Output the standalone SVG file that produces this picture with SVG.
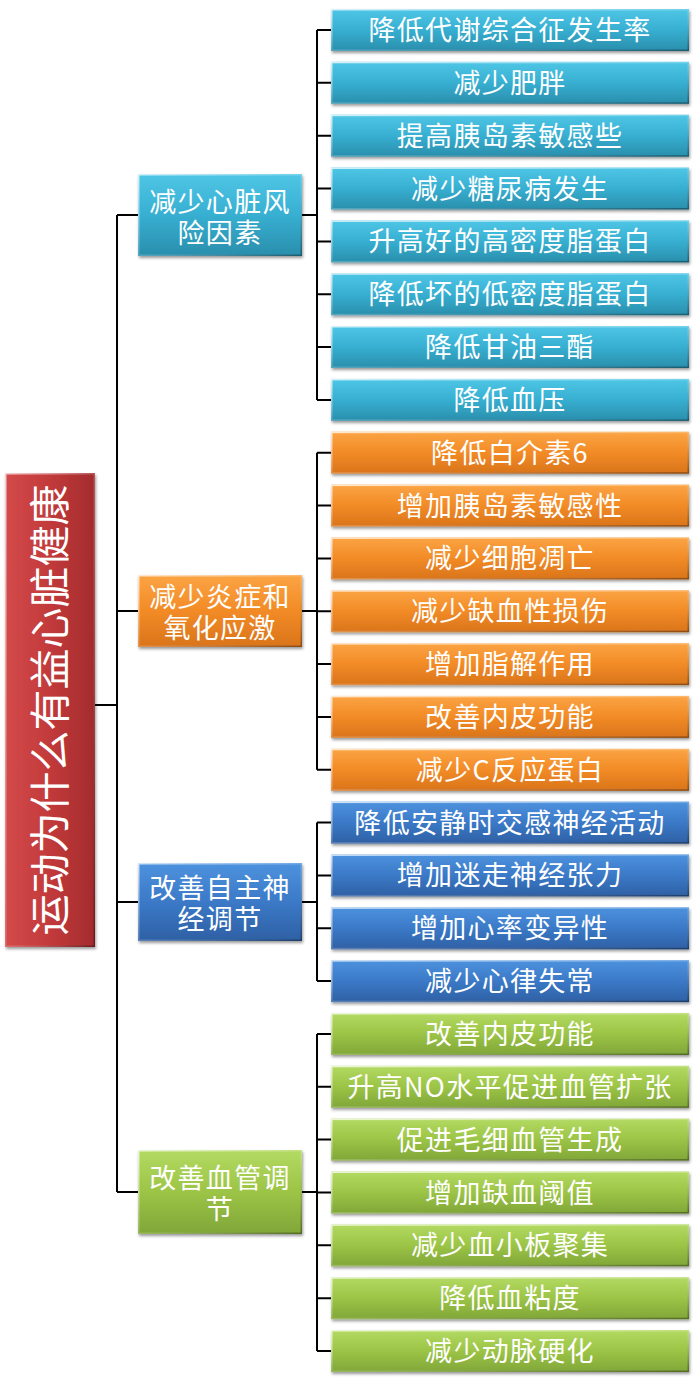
<svg xmlns="http://www.w3.org/2000/svg" width="700" height="1392" viewBox="0 0 700 1392">
<defs>
<linearGradient id="gBlue" x1="0" y1="0" x2="0" y2="1"><stop offset="0" stop-color="#4fc6e6"/><stop offset="0.5" stop-color="#37afd1"/><stop offset="1" stop-color="#2a8eac"/></linearGradient>
<linearGradient id="gOrange" x1="0" y1="0" x2="0" y2="1"><stop offset="0" stop-color="#fba444"/><stop offset="0.5" stop-color="#f28b26"/><stop offset="1" stop-color="#d9741b"/></linearGradient>
<linearGradient id="gBlue2" x1="0" y1="0" x2="0" y2="1"><stop offset="0" stop-color="#4d92de"/><stop offset="0.5" stop-color="#3b79c7"/><stop offset="1" stop-color="#2e60a4"/></linearGradient>
<linearGradient id="gGreen" x1="0" y1="0" x2="0" y2="1"><stop offset="0" stop-color="#b3da62"/><stop offset="0.5" stop-color="#9cc446"/><stop offset="1" stop-color="#80a638"/></linearGradient>
<linearGradient id="gRed" x1="0" y1="0" x2="1" y2="0"><stop offset="0" stop-color="#d44a4a"/><stop offset="0.5" stop-color="#c23a3b"/><stop offset="1" stop-color="#a32b2d"/></linearGradient>
<linearGradient id="gBevel" x1="0" y1="0" x2="1" y2="1"><stop offset="0" stop-color="#ffffff" stop-opacity="0.75"/><stop offset="0.5" stop-color="#ffffff" stop-opacity="0.2"/><stop offset="1" stop-color="#000000" stop-opacity="0.35"/></linearGradient>
<filter id="sh" x="-10%" y="-20%" width="125%" height="150%"><feDropShadow dx="1" dy="2" stdDeviation="1.5" flood-color="#000" flood-opacity="0.4"/></filter>
<style>
.box{filter:url(#sh);}
.bev{fill:none;stroke:url(#gBevel);stroke-width:1.5;}
.blue{fill:url(#gBlue);}
.orange{fill:url(#gOrange);}
.blue2{fill:url(#gBlue2);}
.green{fill:url(#gGreen);}
.red{fill:url(#gRed);}
text{fill:#ffffff;font-family:"Noto Sans CJK SC","Noto Sans",sans-serif;text-anchor:middle;}
.lt{font-size:27px;letter-spacing:1.3px;}
.ct{font-size:27px;letter-spacing:1.3px;}
.rt{font-size:41px;}
.con{fill:none;stroke:#000;stroke-width:2;}
</style>
</defs>

<g id="connectors" class="con">
<path d="M95 705H117M117 215V1192M117 215H138M117 611H138M117 902H138M117 1192H138"/>
<path d="M302 215H317M317 30V399.9M317 30H331M317 82.8H331M317 135.7H331M317 188.5H331M317 241.4H331M317 294.2H331M317 347H331M317 399.9H331"/>
<path d="M302 611H317M317 452.7V769.8M317 452.7H331M317 505.6H331M317 558.4H331M317 611.2H331M317 664.1H331M317 716.9H331M317 769.8H331"/>
<path d="M302 902H317M317 822.6V981.1M317 822.6H331M317 875.4H331M317 928.3H331M317 981.1H331"/>
<path d="M302 1192H317M317 1034V1351M317 1034H331M317 1086.8H331M317 1139.6H331M317 1192.5H331M317 1245.3H331M317 1298.2H331M317 1351H331"/>
</g>

<g id="root"><rect class="box red" x="5" y="473" width="90" height="474"/><rect class="bev" x="5.75" y="473.75" width="88.5" height="472.5"/><text class="rt" transform="translate(51 710) rotate(-90)" y="14">运动为什么有益心脏健康</text></g>

<g id="cat1"><rect class="box blue" x="138" y="174" width="164" height="82"/><rect class="bev" x="138.75" y="174.75" width="162.5" height="80.5"/><text class="ct"><tspan x="220" y="212">减少心脏风</tspan><tspan x="220" y="243">险因素</tspan></text></g>
<g id="cat2"><rect class="box orange" x="138" y="575" width="164" height="72"/><rect class="bev" x="138.75" y="575.75" width="162.5" height="70.5"/><text class="ct"><tspan x="220" y="607">减少炎症和</tspan><tspan x="220" y="638">氧化应激</tspan></text></g>
<g id="cat3"><rect class="box blue2" x="138" y="863" width="164" height="78"/><rect class="bev" x="138.75" y="863.75" width="162.5" height="76.5"/><text class="ct"><tspan x="220" y="898">改善自主神</tspan><tspan x="220" y="929">经调节</tspan></text></g>
<g id="cat4"><rect class="box green" x="138" y="1150" width="164" height="84"/><rect class="bev" x="138.75" y="1150.75" width="162.5" height="82.5"/><text class="ct"><tspan x="220" y="1188">改善血管调</tspan><tspan x="220" y="1219">节</tspan></text></g>

<g id="l0"><rect class="box blue" x="331" y="9" width="358" height="42"/><rect class="bev" x="331.75" y="9.75" width="356.5" height="40.5"/><text class="lt" x="510" y="40">降低代谢综合征发生率</text></g>
<g id="l1"><rect class="box blue" x="331" y="61.8" width="358" height="42"/><rect class="bev" x="331.75" y="62.55" width="356.5" height="40.5"/><text class="lt" x="510" y="92.8">减少肥胖</text></g>
<g id="l2"><rect class="box blue" x="331" y="114.7" width="358" height="42"/><rect class="bev" x="331.75" y="115.45" width="356.5" height="40.5"/><text class="lt" x="510" y="145.7">提高胰岛素敏感些</text></g>
<g id="l3"><rect class="box blue" x="331" y="167.5" width="358" height="42"/><rect class="bev" x="331.75" y="168.25" width="356.5" height="40.5"/><text class="lt" x="510" y="198.5">减少糖尿病发生</text></g>
<g id="l4"><rect class="box blue" x="331" y="220.4" width="358" height="42"/><rect class="bev" x="331.75" y="221.15" width="356.5" height="40.5"/><text class="lt" x="510" y="251.4">升高好的高密度脂蛋白</text></g>
<g id="l5"><rect class="box blue" x="331" y="273.2" width="358" height="42"/><rect class="bev" x="331.75" y="273.95" width="356.5" height="40.5"/><text class="lt" x="510" y="304.2">降低坏的低密度脂蛋白</text></g>
<g id="l6"><rect class="box blue" x="331" y="326" width="358" height="42"/><rect class="bev" x="331.75" y="326.75" width="356.5" height="40.5"/><text class="lt" x="510" y="357">降低甘油三酯</text></g>
<g id="l7"><rect class="box blue" x="331" y="378.9" width="358" height="42"/><rect class="bev" x="331.75" y="379.65" width="356.5" height="40.5"/><text class="lt" x="510" y="409.9">降低血压</text></g>

<g id="l8"><rect class="box orange" x="331" y="431.7" width="358" height="42"/><rect class="bev" x="331.75" y="432.45" width="356.5" height="40.5"/><text class="lt" x="510" y="462.7">降低白介素6</text></g>
<g id="l9"><rect class="box orange" x="331" y="484.6" width="358" height="42"/><rect class="bev" x="331.75" y="485.35" width="356.5" height="40.5"/><text class="lt" x="510" y="515.6">增加胰岛素敏感性</text></g>
<g id="l10"><rect class="box orange" x="331" y="537.4" width="358" height="42"/><rect class="bev" x="331.75" y="538.15" width="356.5" height="40.5"/><text class="lt" x="510" y="568.4">减少细胞凋亡</text></g>
<g id="l11"><rect class="box orange" x="331" y="590.2" width="358" height="42"/><rect class="bev" x="331.75" y="590.95" width="356.5" height="40.5"/><text class="lt" x="510" y="621.2">减少缺血性损伤</text></g>
<g id="l12"><rect class="box orange" x="331" y="643.1" width="358" height="42"/><rect class="bev" x="331.75" y="643.85" width="356.5" height="40.5"/><text class="lt" x="510" y="674.1">增加脂解作用</text></g>
<g id="l13"><rect class="box orange" x="331" y="695.9" width="358" height="42"/><rect class="bev" x="331.75" y="696.65" width="356.5" height="40.5"/><text class="lt" x="510" y="726.9">改善内皮功能</text></g>
<g id="l14"><rect class="box orange" x="331" y="748.8" width="358" height="42"/><rect class="bev" x="331.75" y="749.55" width="356.5" height="40.5"/><text class="lt" x="510" y="779.8">减少C反应蛋白</text></g>

<g id="l15"><rect class="box blue2" x="331" y="801.6" width="358" height="42"/><rect class="bev" x="331.75" y="802.35" width="356.5" height="40.5"/><text class="lt" x="510" y="832.6">降低安静时交感神经活动</text></g>
<g id="l16"><rect class="box blue2" x="331" y="854.4" width="358" height="42"/><rect class="bev" x="331.75" y="855.15" width="356.5" height="40.5"/><text class="lt" x="510" y="885.4">增加迷走神经张力</text></g>
<g id="l17"><rect class="box blue2" x="331" y="907.3" width="358" height="42"/><rect class="bev" x="331.75" y="908.05" width="356.5" height="40.5"/><text class="lt" x="510" y="938.3">增加心率变异性</text></g>
<g id="l18"><rect class="box blue2" x="331" y="960.1" width="358" height="42"/><rect class="bev" x="331.75" y="960.85" width="356.5" height="40.5"/><text class="lt" x="510" y="991.1">减少心律失常</text></g>

<g id="l19"><rect class="box green" x="331" y="1013" width="358" height="42"/><rect class="bev" x="331.75" y="1013.75" width="356.5" height="40.5"/><text class="lt" x="510" y="1044">改善内皮功能</text></g>
<g id="l20"><rect class="box green" x="331" y="1065.8" width="358" height="42"/><rect class="bev" x="331.75" y="1066.55" width="356.5" height="40.5"/><text class="lt" x="510" y="1096.8">升高NO水平促进血管扩张</text></g>
<g id="l21"><rect class="box green" x="331" y="1118.6" width="358" height="42"/><rect class="bev" x="331.75" y="1119.35" width="356.5" height="40.5"/><text class="lt" x="510" y="1149.6">促进毛细血管生成</text></g>
<g id="l22"><rect class="box green" x="331" y="1171.5" width="358" height="42"/><rect class="bev" x="331.75" y="1172.25" width="356.5" height="40.5"/><text class="lt" x="510" y="1202.5">增加缺血阈值</text></g>
<g id="l23"><rect class="box green" x="331" y="1224.3" width="358" height="42"/><rect class="bev" x="331.75" y="1225.05" width="356.5" height="40.5"/><text class="lt" x="510" y="1255.3">减少血小板聚集</text></g>
<g id="l24"><rect class="box green" x="331" y="1277.2" width="358" height="42"/><rect class="bev" x="331.75" y="1277.95" width="356.5" height="40.5"/><text class="lt" x="510" y="1308.2">降低血粘度</text></g>
<g id="l25"><rect class="box green" x="331" y="1330" width="358" height="42"/><rect class="bev" x="331.75" y="1330.75" width="356.5" height="40.5"/><text class="lt" x="510" y="1361">减少动脉硬化</text></g>
</svg>
